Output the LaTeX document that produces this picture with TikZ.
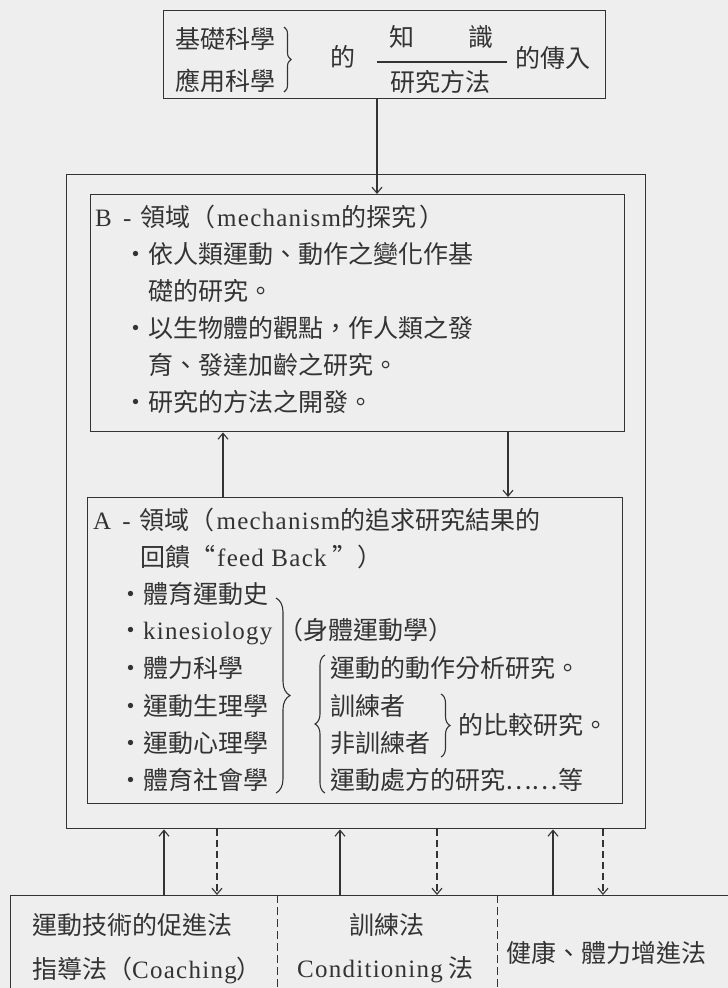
\documentclass[tikz,border=0pt]{standalone}
\usepackage{fontspec}
\setmainfont{Noto Sans CJK TC}
\newfontfamily\lat[LetterSpace=5]{Liberation Serif}
\usetikzlibrary{arrows.meta,decorations.pathreplacing}
\definecolor{ink}{HTML}{333333}
\definecolor{paper}{HTML}{EEEEEE}
\tikzset{
  box/.style={draw=ink, line width=1.4pt, inner sep=0pt, anchor=north west},
  txt/.style={anchor=west, inner sep=0pt, text=ink, font=\fontsize{25}{30}\selectfont},
  ctxt/.style={txt, anchor=center},
  arr/.style={draw=ink, line width=1.1pt, -{Straight Barb[length=6pt,width=10pt]}},
  darr/.style={arr, dash pattern=on 7pt off 4pt},
  sepline/.style={draw=ink, line width=1pt, dash pattern=on 8pt off 4pt},
  brc/.style={draw=ink, line width=1.1pt, decorate, decoration={brace, amplitude=#1}},
  brc/.default=8pt
}
\begin{document}
\begin{tikzpicture}[x=1pt,y=-1pt]
\clip (0,0) rectangle (728,988);
\fill[paper] (0,0) rectangle (728,988);

% ---------- top box ----------
\node[box, minimum width=442pt, minimum height=88pt] (top) at (163,10) {};
\node[txt] (t1) at (175,39) {基礎科學};
\node[txt] (t2) at (175,81) {應用科學};
\draw[brc=7pt] (284,27) -- (284,92);
\node[ctxt] (t3) at (343,57) {的};
\coordinate (fl) at (377,62);
\coordinate (fr) at (507,62);
\draw[ink, line width=1.2pt] (fl) -- (fr);
\node[ctxt] (t4) at (402,37) {知};
\node[ctxt] (t5) at (481,37) {識};
\node[ctxt] (t6) at (440,82) {研究方法};
\node[ctxt] (t7) at (553,58) {的傳入};

% ---------- outer box ----------
\node[box, minimum width=579pt, minimum height=654pt] (outer) at (66,174) {};

% ---------- B box ----------
\node[box, minimum width=534pt, minimum height=237pt] (B) at (90,194) {};
\node[txt] (b1) at (95,217) {{\lat B\hspace{0.45em}-}\hspace{0.35em}領域（\hspace{2pt}{\lat mechanism}的探究\hspace{3pt}）};
\node[txt] (b2) at (123,254) {・依人類運動、動作之變化作基};
\node[txt] (b3) at (148,291) {礎的研究。};
\node[txt] (b4) at (123,328) {・以生物體的觀點，作人類之發};
\node[txt] (b5) at (148,365) {育、發達加齡之研究。};
\node[txt] (b6) at (123,402) {・研究的方法之開發。};

% ---------- A box ----------
\node[box, minimum width=535pt, minimum height=306pt] (A) at (87,497) {};
\node[txt] (a1) at (93,520) {{\lat A\hspace{0.45em}-}\hspace{0.35em}領域（\hspace{2pt}{\lat mechanism}的追求研究結果的};
\node[txt] (a2) at (140,557) {回饋“\hspace{2pt}{\lat feed\hspace{0.3em}Back}\hspace{6pt}”）};
\node[txt] (a3) at (118,594) {・體育運動史};
\node[txt] (a4) at (118,631) {・{\lat kinesiology}\hspace{6pt}（身體運動學）};
\node[txt] (a5) at (118,668) {・體力科學};
\node[txt] (a6) at (118,706) {・運動生理學};
\node[txt] (a7) at (118,743) {・運動心理學};
\node[txt] (a8) at (118,780) {・體育社會學};
\draw[brc=14pt] (276,598) -- (276,793);
\draw[brc=10pt] (325,793) -- (325,655);
\node[txt] (a9) at (330,668) {運動的動作分析研究。};
\node[txt] (a10) at (330,706) {訓練者};
\node[txt] (a11) at (330,743) {非訓練者};
\node[txt] (a12) at (330,780) {運動處方的研究……等};
\draw[brc=9pt] (441,694) -- (441,757);
\node[txt] (a13) at (458,725) {的比較研究。};

% ---------- connectors ----------
\draw[arr] (377,0 |- top.south) -- (377,0 |- B.north);
\draw[arr] (223,0 |- A.north) -- (223,0 |- B.south);
\draw[arr] (508,0 |- B.south) -- (508,0 |- A.north);

% ---------- bottom box ----------
\node[box, minimum width=760pt, minimum height=140pt] (bot) at (10,895) {};
\draw[sepline] (277,0 |- bot.north) -- (277,0 |- bot.south);
\draw[sepline] (497,0 |- bot.north) -- (497,0 |- bot.south);
\node[txt] (c1) at (32,925) {運動技術的促進法};
\node[txt] (c2) at (32,970) {指導法（{\lat Coaching}）};
\node[ctxt] (c3) at (387,925) {訓練法};
\node[txt] (c4) at (297,970) {{\lat Conditioning}\hspace{6pt}法};
\node[txt] (c5) at (506,953) {健康、體力增進法};

\draw[arr] (164,0 |- bot.north) -- (164,0 |- outer.south);
\draw[arr] (340,0 |- bot.north) -- (340,0 |- outer.south);
\draw[arr] (553,0 |- bot.north) -- (553,0 |- outer.south);
\draw[darr] (217,0 |- outer.south) -- (217,0 |- bot.north);
\draw[darr] (437,0 |- outer.south) -- (437,0 |- bot.north);
\draw[darr] (603,0 |- outer.south) -- (603,0 |- bot.north);
\end{tikzpicture}
\end{document}
